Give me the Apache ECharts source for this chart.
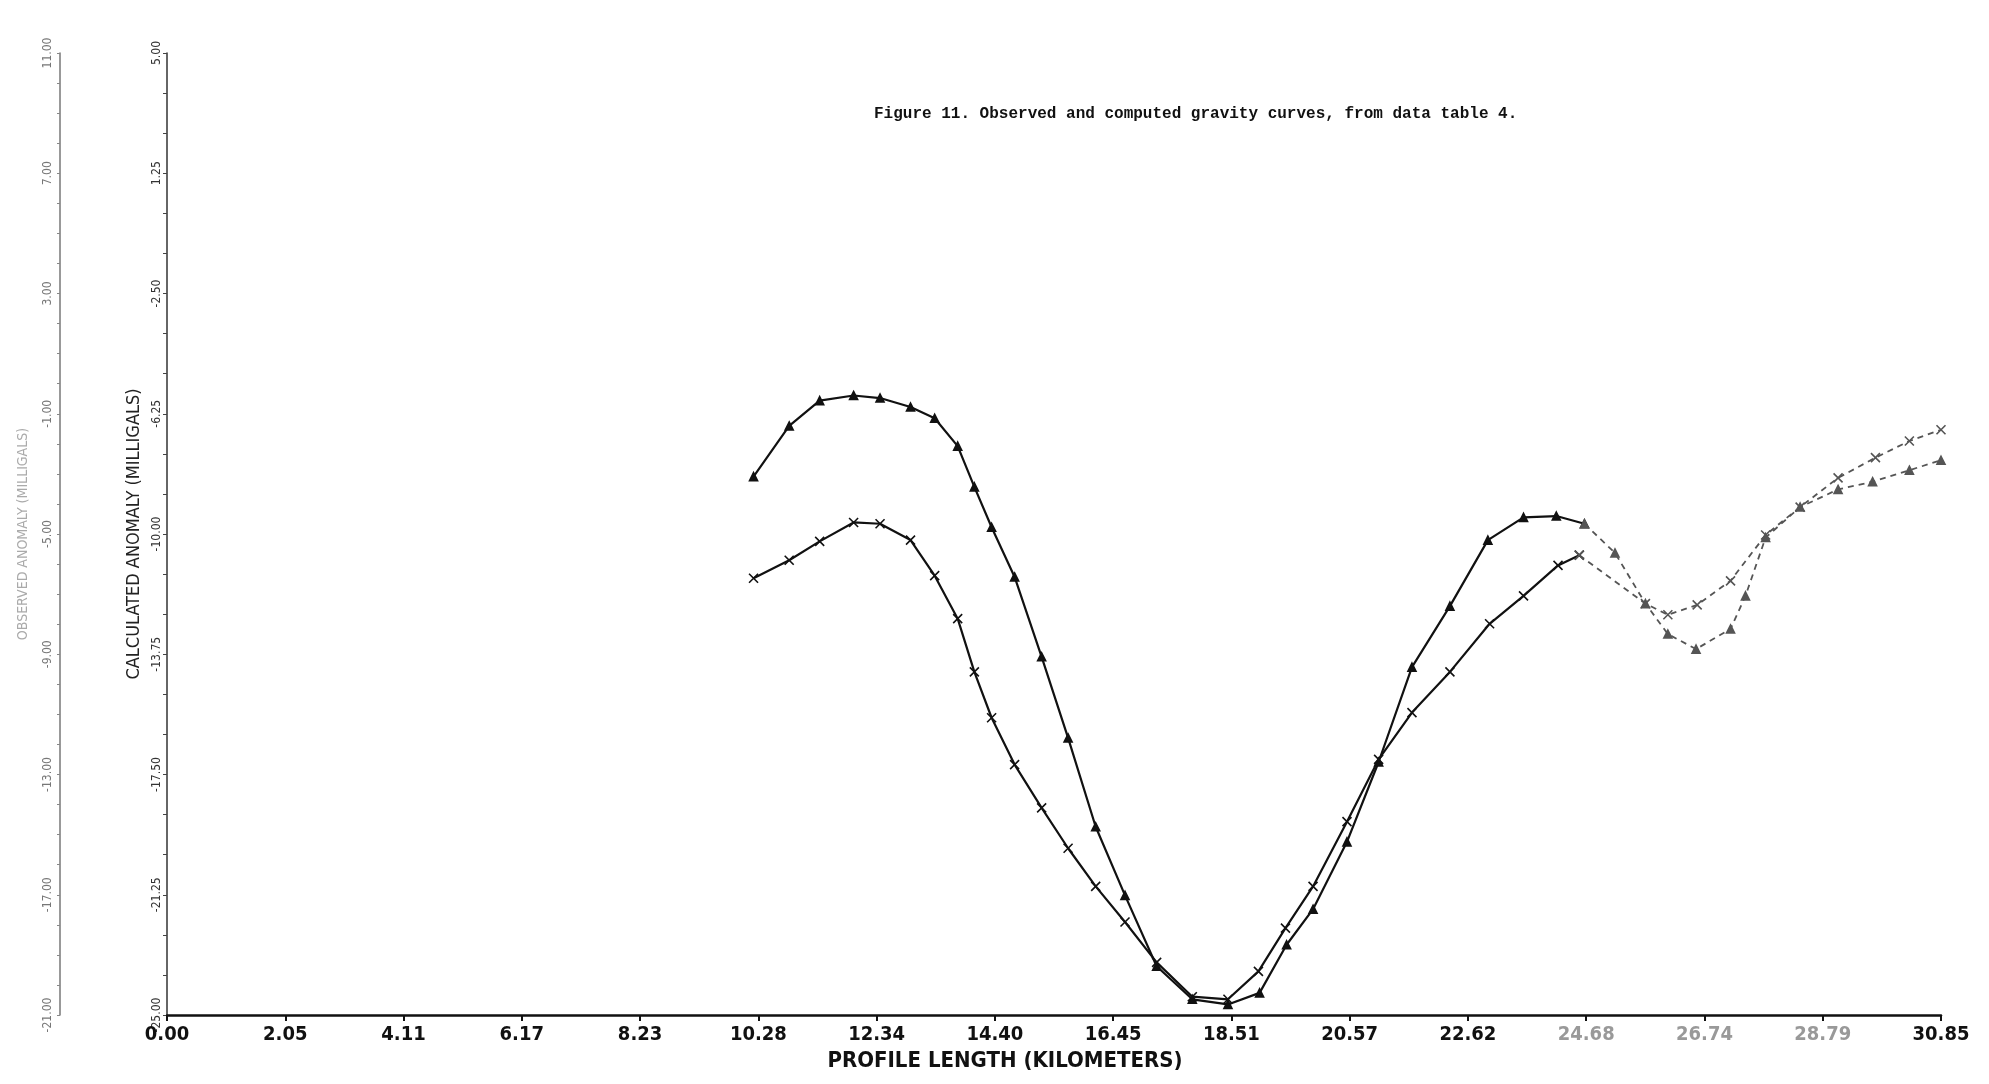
<!DOCTYPE html>
<html>
<head>
<meta charset="utf-8">
<script src="https://cdn.jsdelivr.net/npm/echarts@6/dist/echarts.min.js"></script>
<style>
  html, body { margin: 0; padding: 0; background: #fff; }
  #chart { width: 1989px; height: 1084px; }
</style>
</head>
<body>
<div id="chart"></div>
<script>
// x ticks: profile length, 15 equal steps
var xStep = 30.85 / 15;
var xTickLabels = ['0.00', '2.05', '4.11', '6.17', '8.23', '10.28', '12.34', '14.40',
	'16.45', '18.51', '20.57', '22.62', '24.68', '26.74', '28.79', '30.85'];

// inner (calculated) and outer (observed) y tick labels, bottom to top
var innerTickLabels = ['-25.00', '-21.25', '-17.50', '-13.75', '-10.00', '-6.25', '-2.50', '1.25', '5.00'];
var outerTickLabels = ['-21.00', '-17.00', '-13.00', '-9.00', '-5.00', '-1.00', '3.00', '7.00', '11.00'];

// curve A (upper on the left)
var aKm = [10.20, 10.82, 11.35, 11.94, 12.40, 12.93, 13.35, 13.75, 14.04, 14.34, 14.74, 15.21, 15.67,
	16.15, 16.66, 17.21, 17.83, 18.45, 19.00, 19.47, 19.93, 20.52, 21.07, 21.65, 22.31, 22.97,
	23.59, 24.16, 24.65];
var aVal = [-8.21, -6.63, -5.84, -5.68, -5.76, -6.04, -6.39, -7.26, -8.53, -9.79, -11.34, -13.83, -16.36,
	-19.13, -21.27, -23.48, -24.51, -24.67, -24.31, -22.81, -21.70, -19.60, -17.11, -14.15, -12.25, -10.19,
	-9.48, -9.44, -9.68];
var aTailKm = [24.65, 25.18, 25.71, 26.10, 26.59, 27.19, 27.45, 27.80, 28.40, 29.06, 29.66, 30.30, 30.85];
var aTailVal = [-9.68, -10.59, -12.17, -13.12, -13.59, -12.96, -11.93, -10.11, -9.16, -8.61, -8.37, -8.01, -7.70];

// curve B (lower on the left)
var bKm = [10.20, 10.82, 11.35, 11.94, 12.40, 12.93, 13.35, 13.75, 14.04, 14.34, 14.74, 15.21, 15.67,
	16.15, 16.66, 17.21, 17.83, 18.45, 18.98, 19.45, 19.93, 20.52, 21.07, 21.65, 22.31, 23.00,
	23.59, 24.19, 24.56];
var bVal = [-11.38, -10.82, -10.23, -9.64, -9.68, -10.19, -11.30, -12.64, -14.30, -15.73, -17.19, -18.54, -19.80,
	-20.99, -22.10, -23.36, -24.43, -24.51, -23.64, -22.29, -20.99, -18.97, -17.03, -15.57, -14.30, -12.80,
	-11.93, -10.98, -10.66];
var bTailKm = [24.56, 25.71, 26.10, 26.61, 27.19, 27.80, 28.40, 29.06, 29.71, 30.30, 30.85];
var bTailVal = [-10.66, -12.17, -12.52, -12.21, -11.46, -10.03, -9.16, -8.25, -7.62, -7.10, -6.75];

function zip(xs, ys) {
	return xs.map(function (x, i) { return [x, ys[i]]; });
}

var crossSymbol = 'path://M0,0L10,10M10,0L0,10';
var font = 'DejaVu Sans Condensed';

function curve(name, data, symbol, dashed) {
	return {
		name: name,
		type: 'line',
		data: data,
		symbol: symbol,
		symbolSize: symbol === 'triangle' ? 8 : 9,
		showSymbol: true,
		lineStyle: {
			color: dashed ? '#555' : '#111',
			width: dashed ? 1.8 : 2.2,
			type: dashed ? [6, 5] : 'solid'
		},
		itemStyle: {
			color: dashed ? '#555' : '#111',
			borderColor: dashed ? '#555' : '#111',
			borderWidth: 1.6
		}
	};
}

var myChart = echarts.init(document.getElementById('chart'));
var option = {
	animation: false,
	backgroundColor: '#fff',
	title: {
		text: 'Figure 11. Observed and computed gravity curves, from data table 4.',
		left: 869,
		top: 101,
		textStyle: {
			fontFamily: 'Liberation Mono',
			fontWeight: 'bold',
			fontSize: 16,
			color: '#111'
		}
	},
	grid: {
		left: 167,
		right: 48,
		top: 53,
		bottom: 69,
		outerBoundsMode: 'none'
	},
	xAxis: {
		type: 'value',
		min: 0,
		max: xStep * 15,
		interval: xStep,
		name: 'PROFILE LENGTH (KILOMETERS)',
		nameLocation: 'middle',
		nameGap: 30,
		nameTextStyle: {
			fontFamily: font,
			fontSize: 22,
			fontWeight: 'bold',
			color: '#111',
			padding: [0, 98, 0, 0]
		},
		axisLine: { onZero: false, lineStyle: { color: '#111', width: 2.5 } },
		axisTick: { show: true, length: 6, lineStyle: { color: '#111', width: 2 } },
		axisLabel: {
			margin: 10,
			fontFamily: font,
			fontSize: 20,
			fontWeight: 'bold',
			color: function (v) {
				var i = Math.round(v / xStep);
				return (i >= 12 && i <= 14) ? '#999' : '#111';
			},
			formatter: function (v) {
				return xTickLabels[Math.round(v / xStep)];
			}
		},
		splitLine: { show: false }
	},
	yAxis: [
		{
			type: 'value',
			position: 'left',
			min: -25,
			max: 5,
			interval: 1.25,
			name: 'CALCULATED ANOMALY (MILLIGALS)',
			nameLocation: 'middle',
			nameGap: 16,
			nameTextStyle: { fontFamily: font, fontSize: 18, color: '#222' },
			axisLine: { show: true, lineStyle: { color: '#333', width: 1.5 } },
			axisTick: { show: true, length: 4, lineStyle: { color: '#444' } },
			axisLabel: {
				rotate: 90,
				margin: 4,
				fontFamily: font,
				fontSize: 12,
				color: '#333',
				formatter: function (v) {
					var k = (v + 25) / 3.75;
					var i = Math.round(k);
					return Math.abs(k - i) < 1e-6 ? innerTickLabels[i] : '';
				}
			},
			splitLine: { show: false }
		},
		{
			type: 'value',
			position: 'left',
			offset: 107,
			min: -21,
			max: 11,
			interval: 1,
			name: 'OBSERVED ANOMALY (MILLIGALS)',
			nameLocation: 'middle',
			nameGap: 30,
			nameTextStyle: { fontFamily: font, fontSize: 14, color: '#aaa' },
			axisLine: { show: true, lineStyle: { color: '#777', width: 1.5 } },
			axisTick: { show: true, length: 3, lineStyle: { color: '#888' } },
			axisLabel: {
				rotate: 90,
				margin: 6,
				fontFamily: font,
				fontSize: 12,
				color: '#777',
				formatter: function (v) {
					var k = (v + 21) / 4;
					var i = Math.round(k);
					return Math.abs(k - i) < 1e-6 ? outerTickLabels[i] : '';
				}
			},
			splitLine: { show: false }
		}
	],
	series: [
		curve('A', zip(aKm, aVal), 'triangle', false),
		curve('A tail', zip(aTailKm, aTailVal), 'triangle', true),
		curve('B', zip(bKm, bVal), crossSymbol, false),
		curve('B tail', zip(bTailKm, bTailVal), crossSymbol, true)
	]
};
myChart.setOption(option);
</script>
</body>
</html>
